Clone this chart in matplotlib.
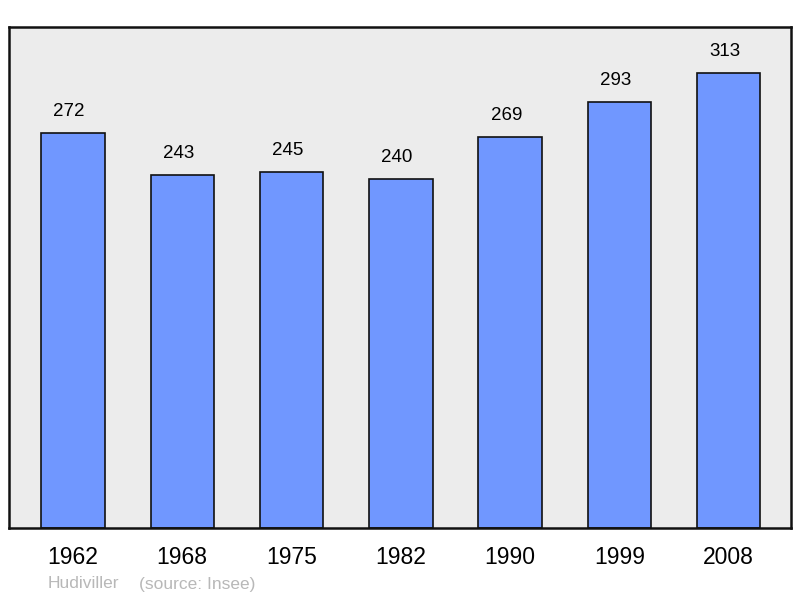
import matplotlib.pyplot as plt

# population data
years = ["1962", "1968", "1975", "1982", "1990", "1999", "2008"]
population = [272, 243, 245, 240, 269, 293, 313]
commune = "Hudiviller"
source = "(source: Insee)"

plt.rcParams['font.family'] = ['Liberation Sans', 'DejaVu Sans']

fig = plt.figure(figsize=(8, 5.98), dpi=100)
ax = fig.add_axes([9 / 800, 70 / 598, 782 / 800, 501 / 598])
ax.set_facecolor('#ececec')

x = list(range(len(years)))
bars = ax.bar(x, population, width=0.58, color='#7097ff',
              edgecolor='#111111', linewidth=1.2)

# value labels sit a little left of the bar centre in the original
for xi, val in zip(x, population):
    ax.text(xi - 0.035, val + 9, str(val), ha='center', va='bottom', fontsize=13.5)

ax.set_xlim(-0.585, 6.57)
ax.set_ylim(0, 344.7)
ax.set_yticks([])
ax.set_xticks(x)
ax.set_xticklabels(years, fontsize=16.5)
ax.tick_params(axis='x', length=0, pad=13)
for s in ax.spines.values():
    s.set_linewidth(1.8)
    s.set_color('#111111')

fig.text(48 / 800, 1 - 584 / 598, commune, color='#b8b8b8', fontsize=12.5, va='center')
fig.text(139 / 800, 1 - 584 / 598, source, color='#b8b8b8', fontsize=12.5, va='center')

fig.savefig('out.png', dpi=100)
